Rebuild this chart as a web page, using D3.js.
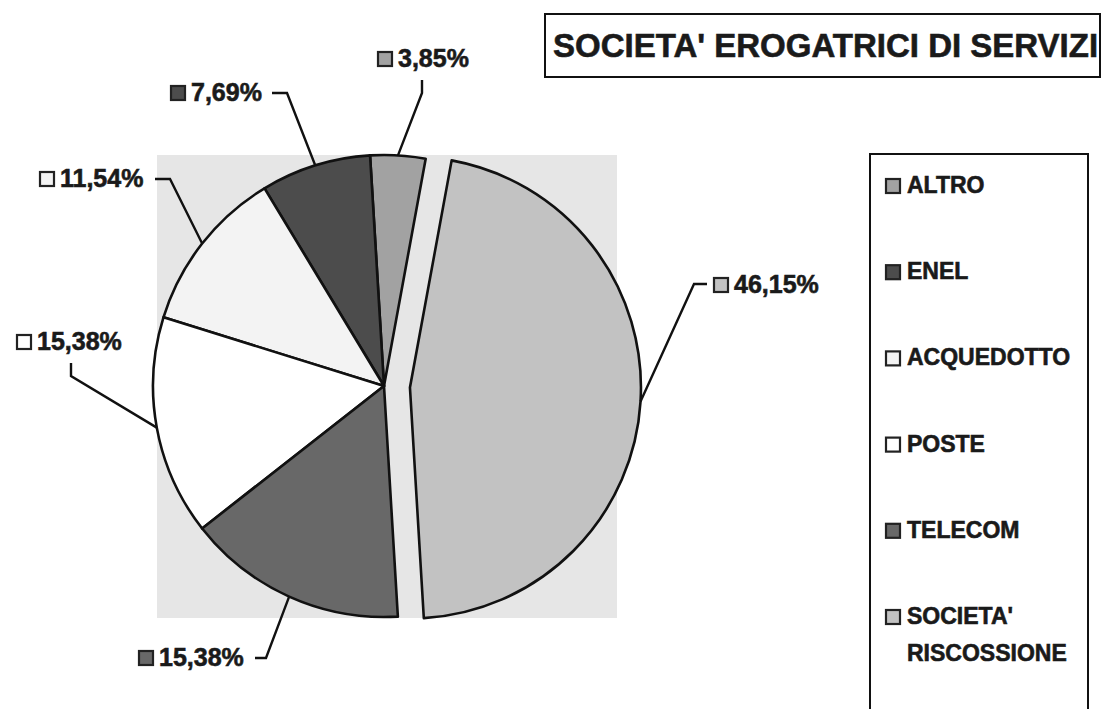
<!DOCTYPE html>
<html>
<head>
<meta charset="utf-8">
<script src="https://cdn.jsdelivr.net/npm/d3@7"></script>
<style>
  body { margin: 0; background: #fff; }
  text { font-family: 'Liberation Sans', Arial, sans-serif; font-weight: bold; fill: #1a1a1a; stroke: #1a1a1a; stroke-width: 0.6px; }
</style>
</head>
<body>
<div id="chart"></div>
<script>
// data
var categories = ['ALTRO', 'ENEL', 'ACQUEDOTTO', 'POSTE', 'TELECOM', "SOCIETA' RISCOSSIONE"];
var values = [3.85, 7.69, 11.54, 15.38, 15.38, 46.15];
var legendLines = [['ALTRO'], ['ENEL'], ['ACQUEDOTTO'], ['POSTE'], ['TELECOM'], ["SOCIETA'", 'RISCOSSIONE']];
var colors = ['#a2a2a2', '#4c4c4c', '#f3f3f3', '#ffffff', '#686868', '#c2c2c2'];
var title = "SOCIETA' EROGATRICI DI SERVIZI";

// layout
var width = 1105, height = 709;
var cx = 384, cy = 386, radius = 231, explode = 26;
var startDeg = 10.4;
// label anchor: box left, text baseline, then leader start + elbow
var labelPos = [
    { x: 377, y: 67, line: [[422, 80], [422, 93]] },
    { x: 170, y: 101, line: [[272, 93], [287, 93]] },
    { x: 39, y: 187, line: [[155, 179], [170, 179]] },
    { x: 16, y: 350, line: [[71, 363], [71, 376]] },
    { x: 138, y: 666, line: [[255, 658], [266, 658]] },
    { x: 713, y: 293, line: [[707, 284], [694, 284]] }
];

var svg = d3.select('#chart')
    .append('svg')
    .attr('width', width)
    .attr('height', height);

// plot area
svg.append('rect')
    .attr('x', 157)
    .attr('y', 155)
    .attr('width', 460)
    .attr('height', 463)
    .attr('fill', '#e6e6e6');

var pie = d3.pie()
    .sort(null)
    .value(function(d) { return d; })
    .startAngle(startDeg * Math.PI / 180)
    .endAngle(startDeg * Math.PI / 180 - 2 * Math.PI);

var arcs = pie(values);
var arc = d3.arc().innerRadius(0).outerRadius(radius);

function midAngle(d) { return (d.startAngle + d.endAngle) / 2; }
function offset(d, i) {
    if (i !== values.length - 1) return [0, 0];
    var a = midAngle(d);
    return [Math.sin(a) * explode, -Math.cos(a) * explode];
}

var g = svg.append('g')
    .attr('transform', 'translate(' + cx + ',' + cy + ')');

g.selectAll('path.slice')
    .data(arcs)
    .enter().append('path')
    .attr('class', 'slice')
    .attr('d', arc)
    .attr('transform', function(d, i) {
        var o = offset(d, i);
        return 'translate(' + o[0] + ',' + o[1] + ')';
    })
    .attr('fill', function(d, i) { return colors[i]; })
    .attr('stroke', '#111')
    .attr('stroke-width', 2.6)
    .attr('stroke-linejoin', 'round');

// leader lines
svg.selectAll('path.leader')
    .data(arcs)
    .enter().append('path')
    .attr('class', 'leader')
    .attr('d', function(d, i) {
        var a = midAngle(d), o = offset(d, i);
        var end = [cx + o[0] + Math.sin(a) * radius, cy + o[1] - Math.cos(a) * radius];
        var pts = labelPos[i].line.concat([end]);
        return d3.line()(pts);
    })
    .attr('fill', 'none')
    .attr('stroke', '#111')
    .attr('stroke-width', 2.4);

// data labels
var fmt = function(v) { return d3.format('.2f')(v).replace('.', ',') + '%'; };
var labels = svg.selectAll('g.label')
    .data(arcs)
    .enter().append('g')
    .attr('class', 'label')
    .attr('transform', function(d, i) {
        return 'translate(' + labelPos[i].x + ',' + labelPos[i].y + ')';
    });

labels.append('rect')
    .attr('x', 1)
    .attr('y', -15)
    .attr('width', 14)
    .attr('height', 14)
    .attr('fill', function(d, i) { return colors[i]; })
    .attr('stroke', '#222')
    .attr('stroke-width', 2.2);

labels.append('text')
    .attr('x', 21)
    .attr('y', 0)
    .attr('font-size', 25)
    .text(function(d) { return fmt(d.data); });

// legend
svg.append('rect')
    .attr('x', 870)
    .attr('y', 154)
    .attr('width', 218)
    .attr('height', 600)
    .attr('fill', 'none')
    .attr('stroke', '#111')
    .attr('stroke-width', 2);

var legend = svg.selectAll('g.legend')
    .data(categories)
    .enter().append('g')
    .attr('class', 'legend')
    .attr('transform', function(d, i) {
        return 'translate(886,' + (193 + i * 86.2) + ')';
    });

legend.append('rect')
    .attr('x', 0)
    .attr('y', -14)
    .attr('width', 14)
    .attr('height', 14)
    .attr('fill', function(d, i) { return colors[i]; })
    .attr('stroke', '#222')
    .attr('stroke-width', 2.2);

legend.append('text')
    .attr('x', 21)
    .attr('y', 0)
    .attr('font-size', 23)
    .selectAll('tspan')
    .data(function(d, i) { return legendLines[i]; })
    .enter().append('tspan')
    .attr('x', 21)
    .attr('dy', function(d, j) { return j === 0 ? 0 : 37; })
    .text(function(d) { return d; });

// title
svg.append('rect')
    .attr('x', 545)
    .attr('y', 14)
    .attr('width', 555)
    .attr('height', 63)
    .attr('fill', 'none')
    .attr('stroke', '#111')
    .attr('stroke-width', 2);

svg.append('text')
    .attr('x', 553)
    .attr('y', 57)
    .attr('font-size', 33)
    .text(title);
</script>
</body>
</html>
